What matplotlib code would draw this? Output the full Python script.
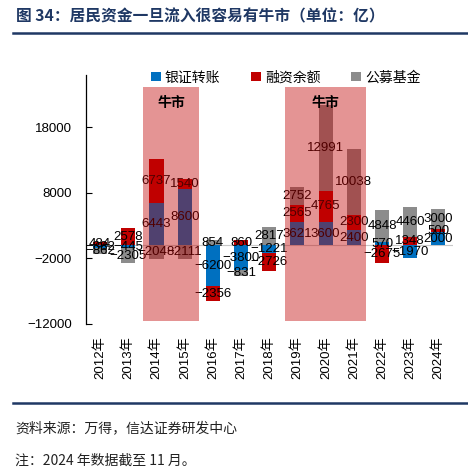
import matplotlib
matplotlib.use('Agg')
import matplotlib.pyplot as plt
from matplotlib.lines import Line2D
from matplotlib.patches import Rectangle
import numpy as np

# ---------------- data ----------------
years = ['2012年', '2013年', '2014年', '2015年', '2016年', '2017年', '2018年',
         '2019年', '2020年', '2021年', '2022年', '2023年', '2024年']
bank_transfer = [-382, -445, 6443, 8600, -6200, -3800, -1221, 3621, 3600, 2400, 570, -1970, 2000]
margin_balance = [484, 2578, 6737, 1540, -2356, 860, -2726, 2565, 4765, 2300, -2675, 1348, 500]
public_funds = [-862, -2305, -2048, -2111, 854, -831, 2817, 2752, 12991, 10038, 4848, 4460, 3000]
series_names = ['银证转账', '融资余额', '公募基金']
bull_markets = [('2014年', '2015年'), ('2019年', '2021年')]
bull_label = '牛市'
y_ticks = [-12000, -2000, 8000, 18000]

title = '图 34：居民资金一旦流入很容易有牛市（单位：亿）'
source = '资料来源：万得，信达证券研发中心'
note = '注：2024 年数据截至 11 月。'

# ---------------- style ----------------
W, H = 468, 473
CJK = ['Liberation Sans', 'Noto Sans CJK SC', 'DejaVu Sans']
plt.rcParams['font.family'] = CJK
plt.rcParams['axes.unicode_minus'] = True
colors = ['#0070C0', '#C00000', '#8C8C8C']
navy = '#1F3864'

fig = plt.figure(figsize=(W / 100, H / 100), dpi=100)
ax_left, ax_right = 86 / W, 452.5 / W
ax_top, ax_bot = 1 - 75 / H, 1 - 324 / H
ax = fig.add_axes([ax_left, ax_bot, ax_right - ax_left, ax_top - ax_bot])

x = np.arange(len(years))
series = [np.array(bank_transfer, float), np.array(margin_balance, float), np.array(public_funds, float)]
pos_base = np.zeros(len(years))
neg_base = np.zeros(len(years))
bw = 0.5
for vals, col, name in zip(series, colors, series_names):
    bottoms = np.where(vals >= 0, pos_base, neg_base)
    ax.bar(x, vals, bw, bottom=bottoms, color=col, label=name, zorder=2)
    for xi, v, b in zip(x, vals, bottoms):
        txt = f'{int(v)}' if v >= 0 else f'\u2212{int(-v)}'
        ax.text(xi, b + v / 2, txt, ha='center', va='center', fontsize=9.5,
                color='black', zorder=3, family=['Liberation Sans'])
    pos_base = pos_base + np.where(vals >= 0, vals, 0)
    neg_base = neg_base + np.where(vals < 0, vals, 0)

ax.axhline(0, color='#C8C8C8', lw=0.8, zorder=1)

# bull market shading (drawn on top, semi-transparent)
pads = [(0.48, 0.51), (0.44, 0.43)]
for (a, b), (pl, pr) in zip(bull_markets, pads):
    i0, i1 = years.index(a), years.index(b)
    ax.add_patch(Rectangle((i0 - pl, -11600), (i1 + pr) - (i0 - pl), 24200 + 11600,
                           facecolor='#C00000', alpha=0.42, edgecolor='none', zorder=5))
    ax.text((i0 - pl + i1 + pr) / 2, 21800, bull_label, ha='center', va='center',
            fontsize=10, fontweight='bold', color='black', zorder=6,
            family=['Noto Sans CJK SC'])

ax.set_xlim(-0.5, len(years) - 0.5)
ax.set_ylim(-12000, 26000)
ax.set_yticks(y_ticks)
ax.tick_params(axis='y', direction='in', length=4, labelsize=9.5, pad=10)
ax.set_xticks(x)
ax.set_xticklabels(years, rotation=90, fontsize=9.5)
ax.tick_params(axis='x', length=0, pad=9)
for s in ['top', 'right', 'bottom']:
    ax.spines[s].set_visible(False)
ax.spines['left'].set_linewidth(0.9)

leg = ax.legend(loc='center', bbox_to_anchor=(0.545, 0.99), ncol=3, frameon=False,
                handlelength=0.7, handleheight=0.7, handletextpad=0.3,
                columnspacing=2.2, prop={'family': ['Noto Sans CJK SC'], 'size': 10})
leg.set_zorder(10)

# title, rules, footer
fig.text(16 / W, 1 - 16 / H, title, ha='left', va='center', fontsize=11.3,
         fontweight='bold', color=navy, family=['Noto Sans CJK SC'])
fig.add_artist(Line2D([13 / W, 1], [1 - 33 / H, 1 - 33 / H], color=navy, lw=1.8))
fig.add_artist(Line2D([13 / W, 1], [1 - 403 / H, 1 - 403 / H], color=navy, lw=1.8))
fig.text(15 / W, 1 - 428 / H, source, ha='left', va='center', fontsize=10,
         style='italic', color='#222222', family=['Noto Sans CJK SC'])
fig.text(15 / W, 1 - 461 / H, note, ha='left', va='center', fontsize=10,
         style='italic', color='#222222', family=['Noto Sans CJK SC'])

fig.savefig('out.png', dpi=100)
